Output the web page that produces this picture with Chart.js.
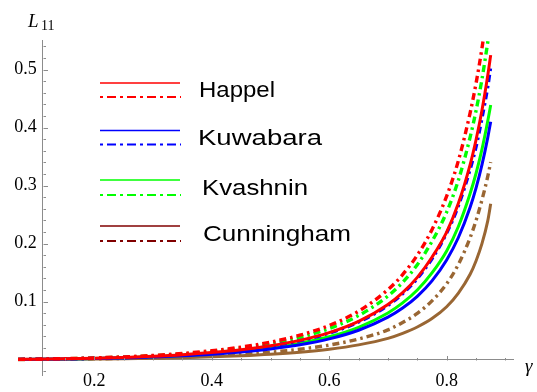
<!DOCTYPE html>
<html><head><meta charset="utf-8">
<script src="https://cdn.jsdelivr.net/npm/chart.js@4.4.1/dist/chart.umd.min.js"></script>
<style>html,body{margin:0;padding:0;background:#fff;} #wrap{width:537px;height:392px;position:relative;}</style>
</head><body><div id="wrap"><canvas id="c" width="537" height="392"></canvas></div>
<script>
const gamma = [0.07,0.1,0.15,0.2,0.25,0.3,0.35,0.4,0.45,0.5,0.55,0.6,0.65,0.7,0.725,0.75,0.775,0.8,0.82,0.84,0.85,0.86,0.87,0.875];
const happelSolid   = [0.0003,0.0005,0.0012,0.0022,0.0036,0.0056,0.0083,0.0120,0.0169,0.0237,0.0330,0.0463,0.0657,0.0949,0.1153,0.1417,0.1764,0.2198,0.2693,0.3361,0.3784,0.4288,0.4896,0.5248];
const happelDash    = [0.0003,0.0007,0.0015,0.0028,0.0046,0.0071,0.0106,0.0152,0.0215,0.0300,0.0419,0.0587,0.0833,0.1205,0.1464,0.1799,0.2239,0.2816,0.3429,0.4254,0.4759,0.5360,0.6082,0.6478];
const kuwabaraSolid = [0.0002,0.0004,0.0009,0.0017,0.0028,0.0043,0.0064,0.0092,0.0130,0.0182,0.0254,0.0356,0.0505,0.0730,0.0887,0.1090,0.1357,0.1717,0.2104,0.2626,0.2956,0.3350,0.3825,0.4100];
const kuwabaraDash  = [0.0003,0.0005,0.0012,0.0022,0.0036,0.0055,0.0082,0.0118,0.0166,0.0233,0.0325,0.0456,0.0646,0.0934,0.1135,0.1395,0.1737,0.2180,0.2651,0.3282,0.3665,0.4154,0.4705,0.5043];
const kvashninSolid = [0.0002,0.0004,0.0010,0.0019,0.0031,0.0047,0.0070,0.0101,0.0143,0.0200,0.0279,0.0392,0.0556,0.0803,0.0976,0.1199,0.1493,0.1872,0.2293,0.2862,0.3207,0.3618,0.4112,0.4387];
const kvashninDash  = [0.0003,0.0006,0.0014,0.0026,0.0042,0.0065,0.0096,0.0138,0.0195,0.0273,0.0381,0.0534,0.0758,0.1095,0.1331,0.1635,0.2036,0.2541,0.3093,0.3834,0.4286,0.4824,0.5470,0.5822];
const cunninghamSolid = [0.0001,0.0002,0.0005,0.0009,0.0014,0.0022,0.0032,0.0046,0.0065,0.0091,0.0127,0.0178,0.0253,0.0365,0.0452,0.0561,0.0706,0.0910,0.1147,0.1471,0.1700,0.1993,0.2391,0.2686];
const cunninghamDash  = [0.0001,0.0003,0.0006,0.0012,0.0020,0.0030,0.0045,0.0064,0.0091,0.0127,0.0178,0.0249,0.0354,0.0511,0.0639,0.0796,0.1011,0.1305,0.1641,0.2101,0.2394,0.2747,0.3156,0.3403];
const xTickLabels = ['0.2','0.4','0.6','0.8'];
const yTickLabels = ['0.1','0.2','0.3','0.4','0.5'];
const legendNames = ['Happel','Kuwabara','Kvashnin','Cunningham'];
const xAxisTitle = 'γ';
const yAxisTitleMain = 'L';
const yAxisTitleSub = '11';

const RED='#ff0000', BLUE='#0000ff', GREEN='#00ff00', BROWN='#996633', DARKRED='#800000';
const DASH=[7,4,2.5,4];
const AXIS='#8c8c8c';
const X_MIN=0.112, X_MAX=0.913;

function pts(arr){ return gamma.map((g,i)=>({x:g,y:arr[i]})); }
function ds(label, arr, color, dashed){
  return {label, data: pts(arr), borderColor: color, backgroundColor: color, borderWidth: dashed?3.4:3,
    borderDash: dashed?DASH:[], pointRadius:0, fill:false, cubicInterpolationMode:'monotone', borderCapStyle:'butt',
    clip:{left:false, top:0, right:0, bottom:false}};
}

const tickPlugin = {
  id:'mmaTicks',
  afterDraw(chart){
    const {ctx, scales:{x,y}} = chart;
    const x0 = Math.round(x.getPixelForValue(X_MIN))+0.5, y0 = Math.round(y.getPixelForValue(0))+0.5;
    ctx.save();
    ctx.strokeStyle = AXIS; ctx.lineWidth = 1;
    ctx.beginPath();
    for (let k=-1;k<=27;k++){
      if(k===0) continue;
      const py = Math.round(y.getPixelForValue(k*0.02))+0.5;
      const len = (k%5===0)?4.5:2.5;
      ctx.moveTo(x0, py); ctx.lineTo(x0+len, py);
    }
    for (let k=3;k<=18;k++){
      const px = Math.round(x.getPixelForValue(k*0.05))+0.5;
      const len = (k%4===0)?4.5:2.5;
      ctx.moveTo(px, y0); ctx.lineTo(px, y0-len);
    }
    ctx.stroke();
    // axis titles
    ctx.fillStyle='#000';
    ctx.textBaseline='alphabetic';
    ctx.textAlign='left';
    ctx.font='italic 19px "Liberation Serif"';
    ctx.fillText(yAxisTitleMain, 28, 27);
    ctx.font='14px "Liberation Serif"';
    ctx.fillText(yAxisTitleSub, 41, 30);
    ctx.font='italic 19px "Liberation Serif"';
    ctx.fillText(xAxisTitle, 525, 372);
    // legend
    const colors=[RED,BLUE,GREEN,DARKRED];
    const rows=[[83,97],[130.5,144.5],[180,195],[226,241]];
    const textX=[199,198,202,203];
    const textW=[76,124,106,148];
    ctx.font='22px "Liberation Sans"';
    ctx.textBaseline='middle';
    rows.forEach((r,i)=>{
      ctx.strokeStyle=colors[i];
      ctx.lineWidth=1.4; ctx.setLineDash([]);
      ctx.beginPath(); ctx.moveTo(100,r[0]); ctx.lineTo(180,r[0]); ctx.stroke();
      ctx.lineWidth=2.2; ctx.setLineDash([3,4,9,4]);
      ctx.beginPath(); ctx.moveTo(100,r[1]); ctx.lineTo(181,r[1]); ctx.stroke();
      ctx.setLineDash([]);
      ctx.fillStyle='#000';
      const w = ctx.measureText(legendNames[i]).width;
      ctx.save();
      ctx.translate(textX[i], (r[0]+r[1])/2+1);
      ctx.scale(textW[i]/w, 1);
      ctx.fillText(legendNames[i], 0, 0);
      ctx.restore();
    });
    ctx.restore();
  }
};

new Chart(document.getElementById('c'), {
  type:'line',
  data:{ datasets:[
    ds('Happel', happelSolid, RED, false),
    ds('Happel', happelDash, RED, true),
    ds('Kuwabara', kuwabaraSolid, BLUE, false),
    ds('Kuwabara', kuwabaraDash, BLUE, true),
    ds('Kvashnin', kvashninSolid, GREEN, false),
    ds('Kvashnin', kvashninDash, GREEN, true),
    ds('Cunningham', cunninghamSolid, BROWN, false),
    ds('Cunningham', cunninghamDash, BROWN, true)
  ]},
  options:{
    responsive:false, animation:false, devicePixelRatio:1,
    layout:{padding:{left:12.7, right:24, top:40.5, bottom:11}},
    plugins:{legend:{display:false}, tooltip:{enabled:false}, title:{display:false}},
    scales:{
      x:{type:'linear', position:{y:0},
        afterBuildTicks:(s)=>{s.min=X_MIN; s.max=X_MAX; s.ticks=xTickLabels.map(t=>({value:parseFloat(t)}));},
        grid:{display:false, drawTicks:false}, border:{display:true,color:AXIS,width:1},
        ticks:{autoSkip:false, maxRotation:0, padding:11, color:'#000',
          font:{family:'"Liberation Serif"', size:18},
          callback:(v)=>Number(v).toFixed(1)}},
      y:{type:'linear', min:-0.027, max:0.55, position:'left',
        afterFit:(s)=>{s.width=30;},
        afterBuildTicks:(s)=>{s.ticks=yTickLabels.map(t=>({value:parseFloat(t)}));},
        grid:{display:false, drawTicks:false}, border:{display:true,color:AXIS,width:1},
        ticks:{autoSkip:false, padding:6, color:'#000',
          font:{family:'"Liberation Serif"', size:18},
          callback:(v)=>Number(v).toFixed(1)}}
    }
  },
  plugins:[tickPlugin]
});
</script></body></html>
